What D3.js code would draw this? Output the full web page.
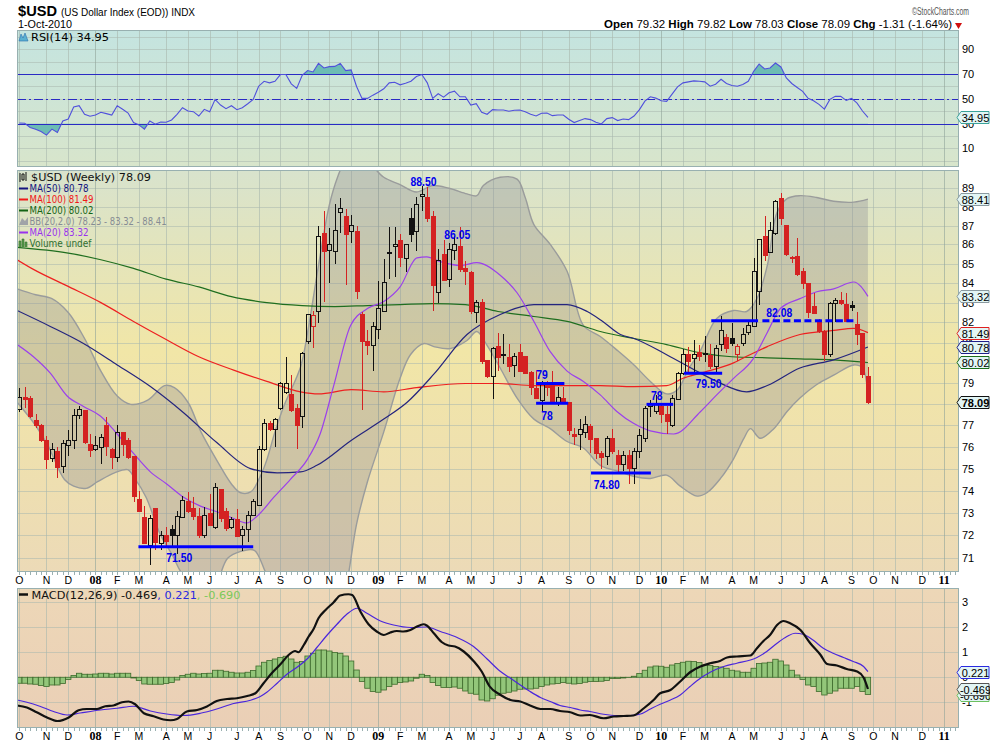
<!DOCTYPE html>
<html>
<head>
<meta charset="utf-8">
<script src="https://d3js.org/d3.v7.min.js"></script>
<style>
  body { margin: 0; background: #fff; }
  svg { display: block; }
</style>
</head>
<body>
<div id="chart"></div>
<script>
// ---------- data (weekly bars, week 0 = week of Mon 1-Oct-2007) ----------
var open = [
  77.76, 78.35, 78.28, 77.25, 77.0, 76.3, 75.45, 75.8, 75.1, 76.05,
  76.3, 77.47, 77.7, 76.1, 75.9, 75.95, 77.0, 75.9, 75.5, 76.65,
  76.3, 75.55, 73.6, 72.8, 71.55, 73.2, 71.65, 72.0, 72.25, 72.0,
  72.8, 73.5, 73.2, 72.85, 72.0, 72.95, 72.35, 74.05, 73.05, 72.35,
  72.7, 72.0, 72.25, 72.9, 73.35, 75.9, 77.1, 76.8, 77.8, 78.55,
  78.45, 77.8, 77.4, 81.05, 81.8, 82.55, 86.6, 85.7, 85.65, 87.7,
  87.5, 86.7, 86.7, 82.4, 81.05, 80.85, 81.65, 82.55, 85.6, 85.9,
  86.2, 85.25, 87.4, 86.7, 88.55, 88.5, 87.5, 83.5, 85.5, 84.2,
  85.7, 85.9, 84.75, 84.55, 82.5, 83.0, 80.1, 79.35, 80.8, 80.4,
  80.25, 79.85, 80.5, 80.3, 79.55, 78.75, 78.2, 78.95, 78.9, 78.1,
  78.3, 78.1, 76.6, 76.6, 76.65, 76.95, 76.4, 75.7, 75.55, 76.4,
  75.6, 75.2, 75.6, 75.0, 75.8, 76.4, 77.9, 77.65, 77.9, 77.5,
  77.0, 78.25, 79.5, 80.4, 80.2, 80.5, 80.45, 80.35, 79.8, 80.9,
  81.25, 81.2, 80.4, 80.95, 81.5, 81.8, 83.55, 86.4, 85.6, 86.6,
  88.45, 87.0, 85.3, 85.35, 84.6, 83.95, 82.8, 82.1, 81.55, 80.4,
  82.95, 83.1, 82.9, 82.85, 81.9, 81.45, 79.32
];
var high = [
  78.8, 78.85, 78.4, 77.55, 77.05, 76.5, 76.2, 76.0, 76.3, 76.8,
  77.8, 77.9, 77.75, 76.6, 76.5, 76.6, 77.4, 75.95, 77.0, 76.7,
  76.4, 75.6, 74.0, 73.3, 72.9, 73.2, 72.2, 72.35, 72.45, 73.1,
  73.75, 73.95, 73.7, 73.2, 73.25, 73.85, 74.35, 74.05, 73.2, 72.8,
  73.15, 72.4, 73.1, 73.6, 76.05, 77.3, 77.2, 77.35, 79.05, 80.3,
  79.4, 78.0, 80.55, 82.4, 82.6, 86.95, 87.8, 86.85, 88.15, 88.45,
  87.9, 87.55, 86.95, 82.5, 81.6, 82.0, 84.1, 85.25, 86.9, 86.9,
  86.55, 86.0, 87.95, 88.55, 89.1, 89.05, 87.75, 85.75, 86.25, 86.05,
  86.45, 86.9, 85.15, 84.6, 83.15, 83.2, 80.15, 80.8, 81.45, 81.4,
  80.95, 80.5, 80.95, 80.3, 79.6, 79.65, 79.1, 79.1, 79.6, 78.85,
  78.85, 78.1, 76.9, 77.3, 77.45, 77.05, 76.4, 75.8, 76.5, 76.85,
  75.85, 75.8, 75.85, 75.95, 76.85, 77.9, 78.2, 78.45, 77.95, 77.9,
  78.45, 79.55, 80.7, 80.8, 81.15, 80.9, 81.3, 80.95, 80.9, 82.3,
  81.4, 81.95, 80.95, 81.7, 82.1, 85.3, 86.3, 87.5, 87.2, 88.35,
  88.75, 87.0, 85.4, 86.35, 84.75, 83.95, 83.5, 82.15, 81.6, 83.05,
  83.25, 83.55, 83.5, 83.1, 82.55, 81.45, 79.82
];
var low = [
  77.65, 77.85, 77.35, 76.9, 76.25, 75.0, 75.3, 74.55, 74.8, 75.6,
  75.9, 77.3, 76.15, 75.55, 75.8, 75.2, 75.6, 75.0, 75.3, 75.6,
  75.45, 73.5, 73.05, 71.65, 70.7, 71.35, 71.35, 71.45, 71.55, 71.2,
  72.75, 73.0, 72.7, 71.9, 71.9, 72.4, 72.3, 72.6, 72.2, 72.3,
  71.95, 71.3, 71.7, 72.85, 73.3, 75.8, 76.75, 76.0, 77.75, 78.5,
  77.65, 75.9, 76.9, 80.95, 80.75, 81.95, 83.05, 84.0, 85.0, 86.6,
  83.9, 86.1, 83.2, 77.75, 80.4, 79.6, 81.2, 82.55, 84.2, 84.3,
  84.8, 84.55, 86.15, 85.65, 87.75, 87.2, 82.6, 83.0, 84.1, 83.8,
  85.2, 84.55, 83.9, 82.4, 81.95, 79.95, 79.25, 78.25, 79.6, 79.95,
  79.55, 79.3, 79.6, 79.5, 78.45, 78.25, 77.7, 78.4, 78.05, 77.9,
  78.05, 76.55, 76.1, 75.85, 76.4, 75.7, 75.45, 75.0, 75.15, 75.65,
  74.85, 74.9, 74.3, 74.3, 75.5, 76.25, 77.4, 77.55, 77.1, 76.6,
  76.95, 78.2, 79.4, 79.45, 79.45, 80.1, 80.05, 79.7, 79.55, 80.6,
  80.5, 80.85, 80.1, 80.85, 81.35, 81.75, 82.9, 85.15, 85.55, 86.5,
  87.05, 85.4, 85.05, 84.35, 83.7, 82.2, 82.45, 81.45, 80.1, 80.3,
  82.0, 82.9, 82.05, 82.6, 80.9, 79.25, 78.03
];
var close = [
  78.32, 78.22, 77.42, 77.0, 76.3, 75.4, 75.9, 75.05, 76.15, 76.3,
  77.47, 77.77, 76.2, 75.85, 76.05, 76.45, 76.0, 75.5, 76.65, 76.1,
  75.5, 73.75, 73.05, 71.65, 72.75, 71.7, 72.0, 71.75, 72.0, 72.85,
  73.55, 73.05, 72.85, 72.0, 72.9, 72.45, 74.15, 72.75, 72.3, 72.7,
  71.95, 72.25, 72.9, 73.5, 75.9, 77.1, 76.8, 77.3, 79.0, 79.0,
  77.7, 77.0, 80.45, 82.4, 82.35, 86.4, 85.65, 86.0, 86.75, 87.9,
  86.5, 87.0, 83.55, 81.05, 80.85, 81.8, 82.7, 84.0, 85.55, 86.0,
  85.3, 86.0, 86.5, 88.1, 88.65, 87.4, 83.85, 85.15, 84.15, 85.75,
  86.0, 84.7, 84.6, 82.55, 83.0, 80.05, 79.35, 80.7, 80.25, 80.35,
  79.8, 80.3, 79.6, 79.5, 78.8, 78.3, 79.0, 78.8, 78.1, 78.35,
  78.1, 76.75, 76.5, 76.8, 77.05, 76.35, 75.7, 75.5, 76.4, 75.8,
  75.2, 75.6, 75.0, 75.8, 76.55, 77.8, 78.0, 78.0, 77.5, 77.2,
  78.3, 79.5, 80.4, 80.05, 80.4, 80.3, 80.4, 79.8, 80.7, 81.6,
  80.7, 80.95, 80.8, 81.4, 81.85, 84.6, 86.25, 85.4, 86.75, 88.3,
  87.4, 85.5, 85.25, 84.45, 83.95, 82.5, 82.45, 81.55, 80.4, 82.95,
  83.1, 82.95, 82.05, 82.75, 81.4, 79.45, 78.09
];

// overlays: [week, value]
var ma20 = [[-0.4,80.9],[2.6,80.3],[5.7,79.5],[8.8,78.4],[11.8,77.9],[14.9,77.45],[18,76.6],[21,75.7],[24.1,74.85],[27.1,74.3],[30.2,73.7],[33.3,73.3],[36.3,73.05],[39.4,72.75],[41.8,72.55],[43.7,72.85],[46.8,73.7],[49.8,74.5],[52.9,75.4],[55.3,76.6],[57.8,78.9],[60.9,81.85],[64,82.7],[67,83.05],[70,83.8],[73.1,85.3],[74.9,85.35],[77.4,85.1],[81.1,84.9],[84.1,85.05],[88.4,84.4],[91.5,83.5],[94.6,82.05],[97.6,80.55],[100.7,79.6],[103.7,79.1],[106.8,78.45],[109.9,77.65],[112.9,77.1],[116,76.75],[120.3,76.6],[125.2,77.65],[128.2,78.45],[131.3,79.25],[134.9,80.2],[137.5,81.5],[139.9,82.7],[143.5,83.2],[146.6,83.55],[149.7,83.7],[153.4,84.05],[156,83.32]];
var ma50 = [[-0.4,82.6],[5.7,81.8],[11.8,80.95],[18,79.9],[24.1,78.85],[30.2,77.6],[36.3,76.2],[42.5,75.0],[47.4,74.8],[51.7,74.85],[54.7,75.15],[61,76.3],[67,77.3],[71.3,78.1],[76.2,79.45],[82.3,81.4],[88.4,82.4],[94.6,82.9],[100.7,82.9],[104.4,82.55],[107,82.1],[110.5,81.4],[113,81.2],[119,80.4],[125.2,79.5],[128.2,79.1],[133.7,78.6],[137.5,78.9],[143.5,79.75],[149.7,80.15],[156,80.78]];
var ma100 = [[-0.4,85.2],[2.6,84.7],[8.8,83.85],[15,83.0],[21,82.05],[27,81.15],[33,80.3],[39.4,79.65],[45.5,79.1],[51.7,78.6],[55,78.5],[61,78.7],[67,78.6],[73,78.8],[82,79.0],[88,79.0],[94.6,78.9],[100.7,78.9],[106.8,78.9],[112.9,78.85],[119,78.9],[122,79.25],[125.2,79.5],[131.3,80.0],[134.3,80.4],[137.5,80.8],[143.5,81.4],[149.7,81.6],[153.4,81.7],[156,81.49]];
var ma200 = [[-0.4,85.85],[9,85.55],[15,85.2],[21,84.75],[27,84.2],[33,83.8],[39,83.3],[45.5,83.0],[52,82.85],[58,82.8],[64,82.85],[70,82.9],[76,82.95],[82,82.9],[88,82.55],[94.6,82.3],[100.7,82.05],[106.8,81.55],[113,81.2],[119,80.9],[125,80.5],[131,80.3],[137.5,80.25],[143.5,80.2],[149.7,80.15],[156,80.02]];
var bbUpper = [[-0.4,83.7],[3,83.4],[6,83.2],[9,82.5],[12,81.2],[15,79.6],[18,78.4],[20.5,78.0],[23.6,78.2],[26.7,78.9],[28.5,78.8],[31,78.1],[33.4,76.7],[36.5,75.3],[39,74.3],[40.7,73.9],[42.6,73.95],[44.4,74.7],[45.5,75.4],[47,76.7],[48.6,77.9],[51.7,79.8],[53,81.5],[55,84.9],[57,88.1],[58.5,89.6],[60,90.6],[61.5,91.0],[63,90.8],[65,90.2],[67,89.6],[70,89.2],[73,88.8],[76,89.15],[79,89.0],[82.3,88.7],[84.1,88.6],[85.3,89.15],[88.4,89.6],[91.5,89.5],[93,88.5],[94.6,87.05],[97.6,86.0],[100.7,84.6],[103.7,81.85],[106.8,81.3],[110,80.6],[113,79.9],[116,79.1],[119,78.5],[121,78.7],[123,79.7],[125.2,80.6],[128.2,82.2],[131.3,82.6],[133.7,82.55],[135.6,83.2],[137.5,84.9],[139.3,87.7],[141.2,88.45],[143.5,88.6],[146.6,88.5],[149.7,88.3],[153.4,88.25],[156,88.41]];
var bbLower = [[-0.4,78.1],[3,77.0],[5.2,76.1],[8.3,74.5],[10,74.2],[12.3,74.1],[14.4,74.4],[17.5,74.8],[19.9,74.95],[21.1,74.6],[23.3,73.7],[26,72.0],[28,71.2],[30,70.3],[33,69.6],[36,69.9],[38.3,71.0],[40.7,71.3],[43.2,71.35],[45.5,70.3],[48,69.5],[52,68.5],[56,67.5],[59,68.5],[60.5,70.3],[62,72.5],[64,74.4],[67,76.7],[70,79.25],[71.9,80.4],[74.4,80.95],[76.2,80.8],[79.2,80.7],[82.3,81.1],[84.1,81.55],[85.9,80.9],[88.4,79.75],[91.5,78.3],[94.6,77.3],[97.6,76.85],[100.7,76.25],[103.7,75.95],[106.8,75.15],[110.5,74.85],[112.9,74.65],[116,74.55],[119,74.7],[121.5,74.2],[124.6,73.75],[126.4,73.9],[128.9,74.55],[131.3,75.45],[133.2,76.4],[134.4,76.85],[136.2,76.4],[138.7,76.85],[141.1,77.65],[143.5,78.3],[146.6,78.95],[149.7,79.4],[153.4,79.9],[155,79.75],[156,78.23]];

// RSI(14), one value per week
var rsi = [
  30.4, 30.2, 26.8, 25.5, 23.6, 20.7, 25.5, 22.8, 32.1, 33.7,
  43.3, 44.4, 37.5, 35.9, 36.9, 39.1, 38.0, 36.9, 44.4, 41.5,
  38.5, 30.8, 28.9, 25.5, 32.1, 29.5, 31.3, 31.1, 32.9, 37.5,
  42.8, 40.1, 39.6, 36.1, 41.5, 39.6, 49.5, 44.9, 42.0, 44.4,
  41.2, 42.8, 46.0, 49.5, 60.1, 64.1, 62.8, 64.1, 69.5, 69.5,
  62.0, 58.3, 68.9, 72.7, 71.6, 78.5, 74.8, 75.9, 76.1, 78.5,
  72.7, 73.2, 59.9, 50.3, 50.3, 52.9, 55.3, 58.0, 62.8, 63.3,
  61.2, 62.5, 64.1, 67.9, 69.5, 62.8, 50.3, 54.0, 51.3, 54.8,
  56.1, 51.6, 51.6, 44.9, 46.0, 39.1, 37.5, 41.2, 40.9, 40.9,
  39.9, 40.7, 40.9, 39.6, 37.5, 36.1, 38.3, 38.5, 36.4, 36.9,
  36.9, 33.5, 30.8, 32.4, 34.0, 33.2, 31.1, 29.7, 34.0, 34.8,
  32.4, 33.7, 33.2, 36.1, 41.2, 48.1, 51.6, 50.5, 48.4, 47.9,
  53.7, 59.6, 62.8, 63.6, 64.4, 64.1, 63.6, 60.1, 61.7, 65.7,
  62.3, 60.7, 60.1, 61.5, 64.1, 72.1, 78.0, 74.0, 74.8, 78.8,
  75.6, 66.8, 62.3, 59.1, 55.9, 50.3, 48.4, 45.5, 41.7, 49.5,
  51.9, 51.9, 48.7, 50.3, 46.5, 40.1, 34.95
];

// MACD(12,26,9): line and signal read as [week, value], histogram per week
var macdLine = [[-0.4,-1.13],[1.4,-1.21],[3.2,-1.4],[5.1,-1.61],[7,-1.75],[9.1,-1.61],[10.9,-1.32],[12.4,-1.27],[14.3,-1.27],[15.8,-1.16],[17.3,-1.13],[18.9,-1.0],[20.1,-0.97],[21.3,-1.08],[22.9,-1.44],[24.7,-1.56],[26.5,-1.69],[27.8,-1.72],[29,-1.67],[30.8,-1.37],[32.7,-1.31],[34.5,-1.17],[36.3,-0.95],[38.2,-0.87],[40,-0.84],[41.9,-0.75],[43.4,-0.64],[44.9,-0.24],[46.4,0.16],[48,0.52],[49.5,0.89],[50.7,1.05],[51.3,1.0],[52.3,1.29],[53.2,1.63],[54.1,1.93],[55,2.36],[56.3,2.69],[57.8,3.0],[59,3.27],[60.5,3.32],[61.2,3.29],[62.7,2.63],[64.2,2.12],[65.7,1.83],[67,1.69],[68.2,1.79],[69.4,1.85],[70.6,1.83],[71.9,1.89],[73.1,2.03],[74.3,2.12],[74.9,2.07],[76.2,1.76],[77.7,1.4],[78.9,1.27],[80.1,1.23],[81.7,1.03],[83.5,0.65],[85,0.23],[86.4,-0.35],[88.4,-0.7],[90.3,-0.91],[92.1,-0.97],[93.9,-1.13],[95.8,-1.27],[97.6,-1.27],[99.4,-1.35],[101.3,-1.4],[103.1,-1.53],[104.9,-1.51],[107.4,-1.64],[109.3,-1.57],[111.1,-1.55],[112.9,-1.53],[114.8,-1.24],[116.6,-0.91],[117.8,-0.64],[119.7,-0.51],[121.5,-0.17],[123.3,0.2],[125.2,0.43],[127,0.56],[128.8,0.65],[130.1,0.79],[131.9,0.83],[134.4,0.87],[135.6,1.16],[136.8,1.45],[138,1.69],[139.3,2.09],[140.5,2.25],[141.7,2.16],[143.6,1.89],[145.4,1.36],[147.3,0.89],[148.5,0.53],[150.3,0.47],[152.1,0.33],[154,0.23],[155.2,-0.01],[156,-0.469]];
var macdSignal = [[-0.4,-0.91],[1.4,-1.0],[3.9,-1.17],[6.3,-1.37],[8.8,-1.51],[11.2,-1.43],[14.9,-1.31],[18,-1.24],[21,-1.16],[24.1,-1.35],[27.1,-1.47],[30.2,-1.53],[33.3,-1.44],[36.3,-1.27],[39.4,-1.05],[42.5,-0.92],[44.3,-0.77],[45.5,-0.6],[47.4,-0.24],[49.2,0.12],[51,0.39],[52.9,0.73],[54.7,1.19],[56.6,1.69],[58.4,2.12],[60.2,2.52],[62.1,2.76],[63.9,2.56],[66.4,2.25],[68.8,2.09],[71.9,1.99],[74.9,2.01],[77.4,1.83],[80.5,1.59],[83.5,1.23],[86,0.73],[88.4,0.24],[90.3,-0.04],[92.1,-0.31],[93.9,-0.57],[95.8,-0.81],[97.6,-0.97],[99.4,-1.13],[101.3,-1.21],[103.1,-1.31],[104.9,-1.37],[107.4,-1.48],[109.9,-1.53],[112.3,-1.53],[114.2,-1.47],[116,-1.27],[117.8,-1.08],[119.7,-0.91],[121.5,-0.71],[123.3,-0.37],[125.2,-0.04],[127,0.2],[129.5,0.43],[131.9,0.56],[134.4,0.69],[135.6,0.79],[137.4,1.03],[139.3,1.36],[141.1,1.63],[142.6,1.76],[144.1,1.72],[145.9,1.49],[147.8,1.16],[149.6,0.96],[151.5,0.79],[153.3,0.63],[155.2,0.43],[156,0.221]];
var macdHist = [
  -0.24, -0.24, -0.27, -0.28, -0.33, -0.37, -0.31, -0.31, -0.25, -0.09,
  0.07, 0.16, 0.12, 0.12, 0.13, 0.16, 0.16, 0.13, 0.16, 0.16,
  0.16, -0.03, -0.13, -0.27, -0.28, -0.28, -0.28, -0.25, -0.21, -0.11,
  0.07, 0.12, 0.16, 0.13, 0.15, 0.16, 0.28, 0.28, 0.24, 0.2,
  0.17, 0.17, 0.2, 0.27, 0.45, 0.6, 0.67, 0.73, 0.79, 0.84,
  0.73, 0.6, 0.63, 0.85, 0.96, 1.09, 1.09, 1.05, 0.99, 0.96,
  0.85, 0.65, 0.29, -0.17, -0.44, -0.57, -0.6, -0.51, -0.37, -0.28,
  -0.21, -0.19, -0.15, -0.04, 0.12, 0.07, -0.21, -0.33, -0.41, -0.41,
  -0.39, -0.44, -0.55, -0.64, -0.68, -0.91, -0.95, -0.86, -0.72, -0.64,
  -0.6, -0.55, -0.48, -0.47, -0.47, -0.44, -0.37, -0.31, -0.27, -0.25,
  -0.21, -0.24, -0.27, -0.25, -0.2, -0.17, -0.17, -0.16, -0.13, -0.05,
  -0.05, -0.03, -0.01, 0.04, 0.15, 0.28, 0.41, 0.45, 0.44, 0.4,
  0.49, 0.55, 0.6, 0.64, 0.63, 0.59, 0.49, 0.47, 0.43, 0.41,
  0.36, 0.28, 0.25, 0.2, 0.2, 0.36, 0.55, 0.57, 0.6, 0.72,
  0.65, 0.49, 0.28, 0.09, -0.09, -0.31, -0.37, -0.57, -0.71, -0.64,
  -0.55, -0.44, -0.44, -0.44, -0.37, -0.57, -0.69
];

// tick labels
var monthLabels = ["O","N","D","08","F","M","A","M","J","J","A","S","O","N","D",
                   "09","F","M","A","M","J","J","A","S","O","N","D",
                   "10","F","M","A","M","J","J","A","S","O","N","D","11"];
var priceTicks = [71,72,73,74,75,76,77,78,79,80,81,82,83,84,85,86,87,88,89];
var rsiTicks = [90, 70, 50, 30, 10];
var macdTicks = [3, 2, 1, 0, -1];

// hand-drawn annotations: support / resistance levels and peak labels
var levelLabels = ["71.50", "88.50", "86.05", "79", "78", "74.80", "78", "79.50", "82.08"];
var levelPrices = [71.5, 88.5, 86.05, 79.0, 78.05, 74.8, 78.0, 79.5, 82.08];
var levelFrom   = [21.9, null, null, 95.0, 95.0, 105.1, 115.3, 122.2, 127.2];
var levelTo     = [43.0, null, null, 100.2, 100.9, 116.1, 120.2, 129.2, 153.4];
var levelText   = [29.4, 74.3, 80.5, 96.1, 97.0, 108.0, 117.2, 126.7, 139.7];

// ---------- layout ----------
var W = 990, H = 744;
var left = 17, right = 959;
var rsiBox = {top: 30, bottom: 167};
var mainBox = {top: 170, bottom: 572};
var macdBox = {top: 588, bottom: 728};
var sans = "'Liberation Sans', Arial, sans-serif";
var narrow = "'Liberation Sans Narrow', 'Liberation Sans', Arial, sans-serif";
var verd = "'DejaVu Sans', Verdana, sans-serif";

var svg = d3.select("#chart").append("svg")
    .attr("width", W)
    .attr("height", H)
    .style("font-family", sans);

// scales
var x = d3.scaleLinear().domain([-0.42, 172.74]).range([left, right]);
var yR = d3.scaleLinear().domain([-5, 105.4]).range([rsiBox.bottom, rsiBox.top]);
var yP = d3.scaleLog().domain([70.41, 90.0]).range([mainBox.bottom, mainBox.top]);
var yM = d3.scaleLinear().domain([-2.03, 3.57]).range([macdBox.bottom, macdBox.top]);

// month tick positions: first weekly bar of every month
var start = new Date(2007, 9, 1);
var monthTicks = monthLabels.map(function(lab, i) {
    var m = new Date(2007, 9 + i, 1);
    return {label: lab, week: d3.timeMonday.count(start, d3.timeMonday.ceil(m)), year: /\d/.test(lab)};
});

var defs = svg.append("defs");
function gradient(id, stops) {
    var g = defs.append("linearGradient").attr("id", id)
        .attr("x1", 0).attr("y1", 0).attr("x2", 0).attr("y2", 1);
    stops.forEach(function(s) {
        g.append("stop").attr("offset", s[0]).attr("stop-color", s[1]);
    });
}
gradient("bgRsi", [[0, "#c4e4e0"], [1, "#d8e5cb"]]);
gradient("bgMain", [[0, "#d8e3cd"], [0.45, "#f1e6a7"], [1, "#ecdab7"]]);
gradient("bgMacd", [[0, "#edd7b7"], [1, "#eacfb6"]]);

function clip(id, box) {
    defs.append("clipPath").attr("id", id).append("rect")
        .attr("x", left).attr("y", box.top)
        .attr("width", right - left).attr("height", box.bottom - box.top);
}
clip("clipRsi", rsiBox);
clip("clipMain", mainBox);
clip("clipMacd", macdBox);

// panel background + grid
function panel(box, fill, hTicks, yScale) {
    var g = svg.append("g");
    g.append("rect")
        .attr("x", left).attr("y", box.top)
        .attr("width", right - left).attr("height", box.bottom - box.top)
        .attr("fill", fill);
    g.selectAll(".hg").data(hTicks).enter().append("line")
        .attr("x1", left).attr("x2", right)
        .attr("y1", function(d) { return Math.round(yScale(d)) + 0.5; })
        .attr("y2", function(d) { return Math.round(yScale(d)) + 0.5; })
        .attr("stroke", "#a9b8ae").attr("stroke-opacity", 0.55);
    g.selectAll(".vg").data(monthTicks).enter().append("line")
        .attr("x1", function(d) { return Math.round(x(d.week)) + 0.5; })
        .attr("x2", function(d) { return Math.round(x(d.week)) + 0.5; })
        .attr("y1", box.top).attr("y2", box.bottom)
        .attr("stroke", function(d) { return d.year ? "#8fa39a" : "#a9b8ae"; })
        .attr("stroke-opacity", 0.6);
    return g;
}
function border(box) {
    svg.append("rect")
        .attr("x", left + 0.5).attr("y", box.top + 0.5)
        .attr("width", right - left - 1).attr("height", box.bottom - box.top - 1)
        .attr("fill", "none").attr("stroke", "#98b0b0");
}
function weekTicks(yBase) {
    svg.append("g").selectAll("line").data(d3.range(0, 173)).enter().append("line")
        .attr("x1", function(d) { return Math.round(x(d)) + 0.5; })
        .attr("x2", function(d) { return Math.round(x(d)) + 0.5; })
        .attr("y1", yBase).attr("y2", yBase + 3)
        .attr("stroke", "#9ab0b0");
}
function monthAxis(yText) {
    svg.append("g").selectAll("text").data(monthTicks).enter().append("text")
        .attr("x", function(d) { return x(d.week); })
        .attr("y", yText)
        .attr("text-anchor", "middle")
        .attr("font-size", function(d) { return d.year ? 12 : 10.5; })
        .attr("font-weight", function(d) { return d.year ? "bold" : "normal"; })
        .attr("font-family", function(d) { return d.year ? "'Liberation Serif', serif" : sans; })
        .text(function(d) { return d.label; });
}
function rightLabels(values, yScale, fmt) {
    svg.append("g").selectAll("text").data(values).enter().append("text")
        .attr("x", 962)
        .attr("y", function(d) { return yScale(d) + 4; })
        .attr("font-size", 11)
        .text(fmt);
}
function tag(yv, label, stroke, bold) {
    var h = 12, x0 = 957, x1 = 989;
    svg.append("path")
        .attr("d", "M" + x0 + "," + yv + "L" + (x0 + 4) + "," + (yv - h / 2) + "L" + x1 + "," + (yv - h / 2) +
                   "L" + x1 + "," + (yv + h / 2) + "L" + (x0 + 4) + "," + (yv + h / 2) + "Z")
        .attr("fill", "#e2f5f5").attr("stroke", stroke);
    svg.append("text")
        .attr("x", (x0 + 4 + x1) / 2 + 0.5).attr("y", yv + 4)
        .attr("text-anchor", "middle")
        .attr("font-size", 11)
        .attr("font-weight", bold ? "bold" : "normal")
        .text(label);
}

// ---------- header ----------
svg.append("text").attr("x", 18).attr("y", 16)
    .attr("font-family", narrow).attr("font-weight", "bold").attr("font-size", 15)
    .attr("textLength", 39).attr("lengthAdjust", "spacingAndGlyphs")
    .text("$USD");
svg.append("text").attr("x", 61).attr("y", 16)
    .attr("font-family", narrow).attr("font-size", 11)
    .attr("textLength", 134).attr("lengthAdjust", "spacingAndGlyphs")
    .text("(US Dollar Index (EOD)) INDX");
svg.append("text").attr("x", 18).attr("y", 28)
    .attr("font-family", narrow).attr("font-size", 11)
    .attr("textLength", 54).attr("lengthAdjust", "spacingAndGlyphs")
    .text("1-Oct-2010");
svg.append("text").attr("x", 912).attr("y", 15)
    .attr("font-family", narrow).attr("font-size", 10).attr("fill", "#555")
    .attr("textLength", 57).attr("lengthAdjust", "spacingAndGlyphs")
    .text("\u00a9StockCharts.com");

var quote = svg.append("text").attr("x", 604).attr("y", 28)
    .attr("font-family", narrow).attr("font-size", 11)
    .attr("textLength", 348).attr("lengthAdjust", "spacingAndGlyphs");
[["Open", 1], [" 79.32 ", 0], ["High", 1], [" 79.82 ", 0], ["Low", 1], [" 78.03 ", 0],
 ["Close", 1], [" 78.09 ", 0], ["Chg", 1], [" -1.31 (-1.64%)", 0]].forEach(function(p) {
    quote.append("tspan").attr("font-weight", p[1] ? "bold" : "normal").text(p[0]);
});
svg.append("path").attr("d", "M955,23 L962,23 L958.5,29 Z").attr("fill", "#d01010");

// ---------- RSI panel ----------
panel(rsiBox, "url(#bgRsi)", d3.range(0, 101, 10), yR);
var rsiG = svg.append("g").attr("clip-path", "url(#clipRsi)");

var rsiPts = rsi.map(function(v, i) { return [i, v]; });
defs.append("clipPath").attr("id", "clipOver").append("rect")
    .attr("x", left).attr("y", rsiBox.top).attr("width", right - left).attr("height", yR(70) - rsiBox.top);
defs.append("clipPath").attr("id", "clipUnder").append("rect")
    .attr("x", left).attr("y", yR(30)).attr("width", right - left).attr("height", rsiBox.bottom - yR(30));

rsiG.append("path").datum(rsiPts)
    .attr("clip-path", "url(#clipOver)")
    .attr("fill", "#6cbcb4")
    .attr("d", d3.area().x(function(d) { return x(d[0]); }).y0(yR(70)).y1(function(d) { return yR(d[1]); }));
rsiG.append("path").datum(rsiPts)
    .attr("clip-path", "url(#clipUnder)")
    .attr("fill", "#6cbcb4")
    .attr("d", d3.area().x(function(d) { return x(d[0]); }).y0(yR(30)).y1(function(d) { return yR(d[1]); }));

[70, 50, 30].forEach(function(v) {
    rsiG.append("line")
        .attr("x1", left).attr("x2", right)
        .attr("y1", Math.round(yR(v)) + 0.5).attr("y2", Math.round(yR(v)) + 0.5)
        .attr("stroke", "#2a2ac4").attr("stroke-width", 1.2)
        .attr("stroke-dasharray", v === 50 ? "9,3,2,3" : null);
});
rsiG.append("path").datum(rsiPts)
    .attr("fill", "none").attr("stroke", "#5050dc").attr("stroke-width", 1.1)
    .attr("d", d3.line().x(function(d) { return x(d[0]); }).y(function(d) { return yR(d[1]); }));
border(rsiBox);

// RSI legend
svg.append("path").attr("d", "M19,41 L21,34 L23,38 L25,33 L28,41 Z").attr("fill", "#5bb0d0").attr("stroke", "#2a6fb0").attr("stroke-width", 0.6);
svg.append("text").attr("x", 31).attr("y", 41)
    .attr("font-family", verd).attr("font-size", 11)
    .attr("textLength", 78).attr("lengthAdjust", "spacingAndGlyphs")
    .text("RSI(14) 34.95");

rightLabels(rsiTicks, yR, function(d) { return d; });
tag(Math.round(yR(34.95)) + 0.5, "34.95", "#3aa39a", false);

// ---------- main price panel ----------
panel(mainBox, "url(#bgMain)", priceTicks, yP);
var mainG = svg.append("g").attr("clip-path", "url(#clipMain)");

var lx = function(d) { return x(d[0]); };
var ly = function(d) { return yP(d[1]); };
var bandLine = d3.line().x(lx).y(ly).curve(d3.curveCatmullRom.alpha(0.5));
var smooth = d3.line().x(lx).y(ly).curve(d3.curveMonotoneX);

// Bollinger band shading
var upPath = bandLine(bbUpper);
var lowPath = bandLine(bbLower.slice().reverse());
mainG.append("path")
    .attr("d", upPath + "L" + lowPath.slice(1) + "Z")
    .attr("fill", "#8a8a92").attr("fill-opacity", 0.32);
[bbUpper, bbLower].forEach(function(b) {
    mainG.append("path").attr("d", bandLine(b))
        .attr("fill", "none").attr("stroke", "#9a9c9c").attr("stroke-width", 1.4);
});

// moving averages
[[ma200, "#1f6e1f"], [ma100, "#ee2020"], [ma50, "#24247e"], [ma20, "#9b40ec"]].forEach(function(m) {
    mainG.append("path").attr("d", smooth(m[0]))
        .attr("fill", "none").attr("stroke", m[1]).attr("stroke-width", 1.2);
});

// candles
var bars = open.map(function(o, i) {
    return {week: i, o: o, h: high[i], l: low[i], c: close[i], prev: i > 0 ? close[i - 1] : o};
});
var candle = mainG.append("g").selectAll("g").data(bars).enter().append("g")
    .attr("shape-rendering", "crispEdges");
function colour(d) { return d.c >= d.prev ? "#111" : "#d42222"; }
candle.append("line")
    .attr("x1", function(d) { return Math.round(x(d.week)) + 0.5; })
    .attr("x2", function(d) { return Math.round(x(d.week)) + 0.5; })
    .attr("y1", function(d) { return yP(d.h); })
    .attr("y2", function(d) { return yP(Math.max(d.o, d.c)); })
    .attr("stroke", colour);
candle.append("line")
    .attr("x1", function(d) { return Math.round(x(d.week)) + 0.5; })
    .attr("x2", function(d) { return Math.round(x(d.week)) + 0.5; })
    .attr("y1", function(d) { return yP(Math.min(d.o, d.c)); })
    .attr("y2", function(d) { return yP(d.l); })
    .attr("stroke", colour);
candle.append("rect")
    .attr("x", function(d) { return Math.round(x(d.week)) - 1.5; })
    .attr("width", 4)
    .attr("y", function(d) { return yP(Math.max(d.o, d.c)); })
    .attr("height", function(d) { return Math.max(1, yP(Math.min(d.o, d.c)) - yP(Math.max(d.o, d.c))); })
    .attr("fill", function(d) { return d.c < d.o ? colour(d) : "none"; })
    .attr("stroke", colour);

// annotations
var textDy = [15, -12, -4, -4.5, 17, 16.5, -4.5, 15, -4];
levelLabels.forEach(function(lab, i) {
    var yv = yP(levelPrices[i]);
    if (levelFrom[i] !== null) {
        if (lab === "82.08") {
            mainG.append("line").attr("x1", x(levelFrom[i])).attr("x2", x(135.8))
                .attr("y1", yv).attr("y2", yv).attr("stroke", "#0000ff").attr("stroke-width", 3);
            mainG.append("line").attr("x1", x(136.6)).attr("x2", x(levelTo[i]))
                .attr("y1", yv).attr("y2", yv).attr("stroke", "#0000ff").attr("stroke-width", 3)
                .attr("stroke-dasharray", "7,3.5");
        } else {
            mainG.append("line").attr("x1", x(levelFrom[i])).attr("x2", x(levelTo[i]))
                .attr("y1", yv).attr("y2", yv).attr("stroke", "#0000ff").attr("stroke-width", 3);
        }
    }
    mainG.append("text")
        .attr("x", x(levelText[i])).attr("y", yv + textDy[i])
        .attr("text-anchor", "middle")
        .attr("font-family", narrow).attr("font-weight", "bold").attr("font-size", 13)
        .attr("fill", "#0000ee")
        .attr("textLength", lab.length > 2 ? 26 : 11.5).attr("lengthAdjust", "spacingAndGlyphs")
        .text(lab);
});
border(mainBox);

// main legend
var legend = [
    ["$USD (Weekly) 78.09", "#111", 120, null],
    ["MA(50) 80.78", "#14147e", 59, "#14147e"],
    ["MA(100) 81.49", "#f01818", 64, "#f01818"],
    ["MA(200) 80.02", "#146414", 64, "#146414"],
    ["BB(20,2.0) 78.23 - 83.32 - 88.41", "#868c94", 137, null],
    ["MA(20) 83.32", "#9933ee", 59, "#9933ee"],
    ["Volume undef", "#2f6f2f", 62, null]
];
legend.forEach(function(l, i) {
    var by = 181 + i * 11;
    if (l[3]) {
        svg.append("line").attr("x1", 19).attr("x2", 28).attr("y1", by - 3.5).attr("y2", by - 3.5)
            .attr("stroke", l[3]).attr("stroke-width", 2);
    }
    svg.append("text").attr("x", i === 0 ? 31 : 29.5).attr("y", by)
        .attr("font-family", verd).attr("font-size", 11).attr("fill", l[1])
        .attr("textLength", l[2]).attr("lengthAdjust", "spacingAndGlyphs")
        .text(l[0]);
});
// little glyphs for candle, BB and volume entries
svg.append("path").attr("d", "M20,173 v9 M22,174 h2 v6 h-2 z M26,172 v9").attr("stroke", "#111").attr("fill", "none");
svg.append("path").attr("d", "M19,225 L22,218 L25,221 L28,217 L28,225 Z").attr("fill", "#a0a4a8");
svg.append("path").attr("d", "M19,247 v-6 h2 v6 M22,247 v-8 h2 v8 M25,247 v-5 h2 v5").attr("fill", "#5a9a4a").attr("stroke", "#2f6f2f").attr("stroke-width", 0.6);

weekTicks(mainBox.bottom);
monthAxis(584);
rightLabels(priceTicks, yP, function(d) { return d; });
tag(Math.round(yP(88.41)) + 0.5, "88.41", "#8a9aa0", false);
tag(Math.round(yP(83.32)) + 0.5, "83.32", "#8a9aa0", false);
tag(Math.round(yP(81.49)) + 0.5, "81.49", "#e02020", false);
tag(Math.round(yP(80.78)) + 0.5, "80.78", "#20208a", false);
tag(Math.round(yP(80.02)) + 0.5, "80.02", "#1a6e1a", false);
tag(Math.round(yP(78.09)) + 0.5, "78.09", "#111", true);

// ---------- MACD panel ----------
panel(macdBox, "url(#bgMacd)", [3, 2, 1, 0, -1], yM);
var macdG = svg.append("g").attr("clip-path", "url(#clipMacd)");

macdG.append("g").selectAll("rect").data(macdHist).enter().append("rect")
    .attr("x", function(d, i) { return x(i) - 2.7; })
    .attr("width", 5.4)
    .attr("y", function(d) { return d >= 0 ? yM(d) : yM(0); })
    .attr("height", function(d) { return Math.abs(yM(d) - yM(0)); })
    .attr("fill", "#93c67a").attr("stroke", "#3d6a2c").attr("stroke-width", 0.8);

var mline = d3.line().x(lx).y(function(d) { return yM(d[1]); }).curve(d3.curveMonotoneX);
macdG.append("path").attr("d", mline(macdSignal))
    .attr("fill", "none").attr("stroke", "#4a26dc").attr("stroke-width", 1.2);
macdG.append("path").attr("d", mline(macdLine))
    .attr("fill", "none").attr("stroke", "#111").attr("stroke-width", 2.2);
border(macdBox);

// MACD legend
svg.append("line").attr("x1", 19).attr("x2", 28).attr("y1", 594.5).attr("y2", 594.5)
    .attr("stroke", "#111").attr("stroke-width", 2.5);
var mleg = svg.append("text").attr("x", 31.5).attr("y", 598.5)
    .attr("font-family", verd).attr("font-size", 11)
    .attr("textLength", 209).attr("lengthAdjust", "spacingAndGlyphs");
mleg.append("tspan").attr("fill", "#111").text("MACD(12,26,9) -0.469");
mleg.append("tspan").attr("fill", "#2a2ae0").text(", 0.221");
mleg.append("tspan").attr("fill", "#7cc85a").text(", -0.690");

weekTicks(macdBox.bottom);
monthAxis(740);
rightLabels(macdTicks, yM, function(d) { return d; });
tag(Math.round(yM(-0.69)) + 0.5, "-0.690", "#6cc060", false);
tag(Math.round(yM(0.221)) + 0.5, "0.221", "#2a2ae0", false);
tag(Math.round(yM(-0.469)) + 0.5, "-0.469", "#555", false);
</script>
</body>
</html>
